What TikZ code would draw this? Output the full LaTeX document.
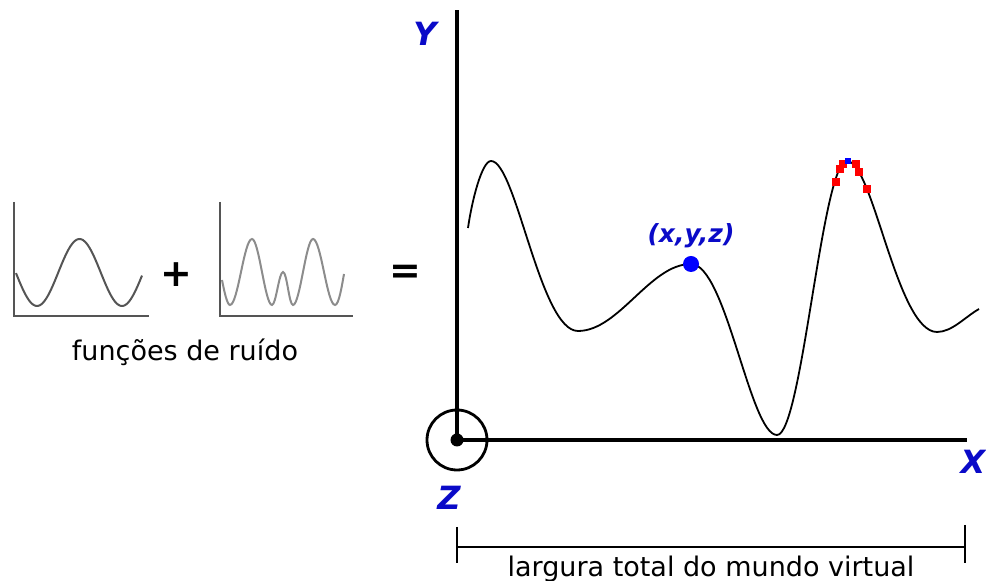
\documentclass[tikz,border=0pt]{standalone}
\usepackage{fontspec}
\setmainfont{DejaVu Sans}
\usetikzlibrary{positioning}
\definecolor{labelblue}{RGB}{10,10,200}
\definecolor{dotblue}{RGB}{0,0,255}
\definecolor{wavedark}{RGB}{85,85,85}
\definecolor{wavelight}{RGB}{140,140,140}

\begin{document}
\begin{tikzpicture}[
  x=0.5pt, y=-0.5pt,
  axis/.style={line width=2pt, line cap=rect},
  miniaxis/.style={line width=0.8pt, wavedark},
  wave/.style={line width=1pt},
  terrain/.style={line width=0.9pt},
  dimline/.style={line width=1.3pt},
  axlabel/.style={font=\fontsize{16}{16}\selectfont\bfseries\itshape, text=labelblue},
  ptlabel/.style={font=\fontsize{12.5}{12.5}\selectfont\bfseries\itshape, text=labelblue},
  caption/.style={font=\fontsize{13.5}{14}\selectfont},
  op/.style={font=\fontsize{19}{19}\selectfont\bfseries},
  sample/.style={fill=red, minimum size=4pt, inner sep=0pt},
  top/.style={fill=dotblue, minimum size=3pt, inner sep=0pt},
  pt/.style={circle, fill=dotblue, minimum size=8pt, inner sep=0pt}
]
\useasboundingbox (0,0) rectangle (986,581);

% ---- noise functions (left) ----
\draw[miniaxis] (14,202) coordinate (aytop) -- (14,316) coordinate (aorig) -- (149,316) coordinate (axend);
\draw[wave, wavedark] plot[domain=16:142, samples=80] (\x, {272.5+33.5*cos(4.2353*(\x-37))});

\draw[miniaxis] (220,202) coordinate (bytop) -- (220,316) coordinate (borig) -- (353,316) coordinate (bxend);
\draw[wave, wavelight] (222,280) .. controls (224,290) and (227,305) .. (230,305)
  .. controls (238,305) and (244,239) .. (252,239)
  .. controls (259,239) and (265,305) .. (272,305)
  .. controls (276,305) and (279,272) .. (283,272)
  .. controls (287,272) and (289,305) .. (293,305)
  .. controls (300,305) and (306,239) .. (313,239)
  .. controls (321,239) and (327,305) .. (335,305)
  .. controls (339,305) and (342,285) .. (344,274);

\node[op] (plus) at (176,275) {+};
\node[op] (equals) at (405,274) {=};
\node[caption, anchor=base] (noise) at (185,361) {funções de ruído};

% ---- world axes ----
\coordinate (origin) at (457,440);
\coordinate (ytop) at (457,12);
\coordinate (xend) at (965,440);
\draw[axis] (origin) -- (ytop);
\draw[axis] (origin) -- (xend);
\draw[line width=1.4pt] (origin) circle[radius=30];
\fill (origin) circle[radius=6.5];
\node[axlabel] (ylab) at (425,34) {Y};
\node[axlabel] (xlab) at (973,462) {X};
\node[axlabel] (zlab) at (449,498) {Z};

% ---- terrain height curve ----
\draw[terrain] (468,228) .. controls (472,200) and (482,161) .. (491,161)
  .. controls (516,161) and (540,331) .. (578,331)
  .. controls (619,331) and (650,264) .. (691,264)
  .. controls (726,264) and (750,435) .. (777,435)
  .. controls (802,435) and (822,161) .. (847,161)
  .. controls (873,161) and (897,332) .. (937,332)
  .. controls (952,332) and (965,317) .. (979,309);

\node[pt] (p) at (691,264) {};
\node[ptlabel, above=0.5pt of p] (plab) {(x,y,z)};

% ---- samples round the peak ----
\foreach \sx/\sy [count=\i] in {836/182, 840/169, 843/164, 856/164, 859/172, 867/189}
  \node[sample] (s\i) at (\sx,\sy) {};
\node[top] (peak) at (848,161) {};

% ---- world width ----
\coordinate (wl) at (457,547);
\coordinate (wr) at (965,547);
\draw[dimline] (wl) -- (wr);
\draw[dimline] ([yshift=10pt]wl) -- ([yshift=-8pt]wl);
\draw[dimline] ([yshift=11pt]wr) -- ([yshift=-8pt]wr);
\node[caption, anchor=base] (width) at (711,577) {largura total do mundo virtual};

\end{tikzpicture}
\end{document}
